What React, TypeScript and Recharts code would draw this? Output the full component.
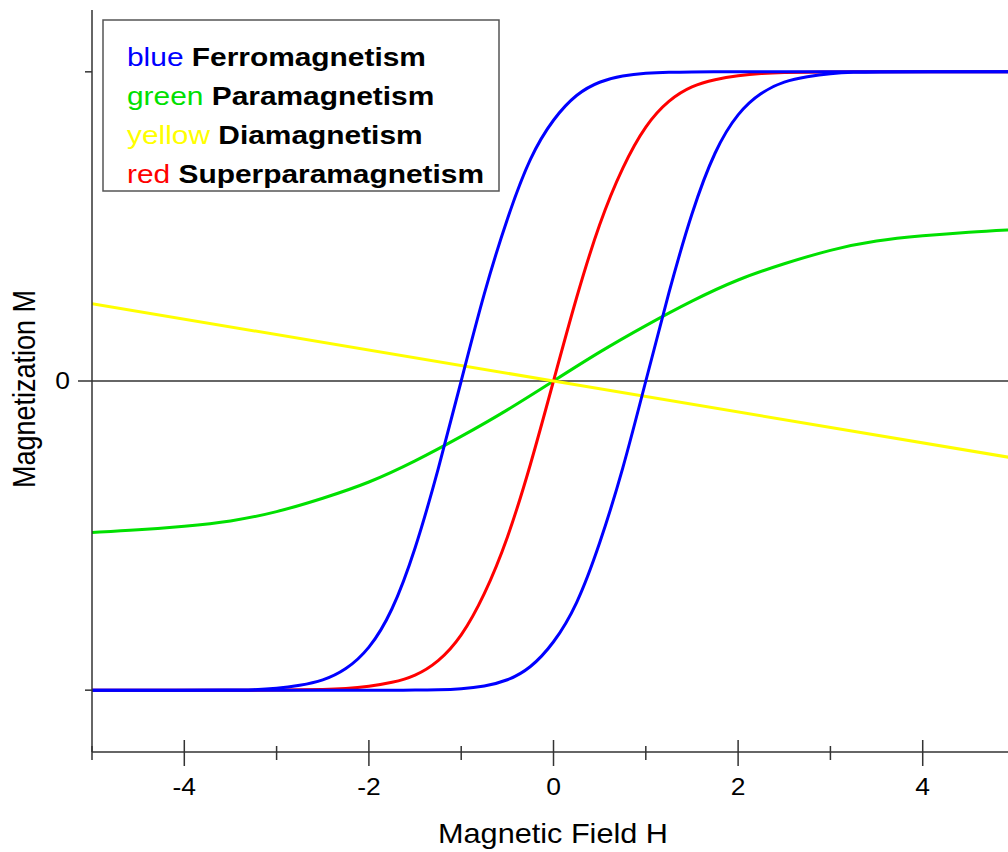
import React from 'react';
import { LineChart, Line, XAxis, YAxis, ReferenceLine, Legend } from 'recharts';

// ---- data ----
const FIELD_H = [-5, -4, -3.5, -3.25, -3, -2.75, -2.5, -2.25, -2, -1.75, -1.5, -1.25, -1, -0.75, -0.5, -0.25, 0, 0.25, 0.5, 0.75, 1, 1.25, 1.5, 1.75, 2, 2.25, 2.5, 2.75, 3, 3.25, 3.5, 4, 5];
const FERRO_DESCENDING = [-1, -1, -1, -0.999, -0.995, -0.985, -0.97, -0.935, -0.87, -0.75, -0.55, -0.29, 0, 0.29, 0.53, 0.73, 0.85, 0.93, 0.97, 0.988, 0.996, 0.999, 1, 1, 1, 1, 1, 1, 1, 1, 1, 1, 1];
const FERRO_ASCENDING = [-1, -1, -1, -1, -1, -1, -1, -1, -1, -1, -1, -0.999, -0.996, -0.988, -0.97, -0.93, -0.85, -0.73, -0.53, -0.29, 0, 0.29, 0.55, 0.75, 0.87, 0.935, 0.97, 0.985, 0.995, 0.999, 1, 1, 1];
const SUPERPARA = [-1, -1, -1, -1, -1, -0.999, -0.998, -0.995, -0.988, -0.976, -0.955, -0.91, -0.83, -0.695, -0.515, -0.275, 0, 0.275, 0.515, 0.695, 0.83, 0.91, 0.955, 0.976, 0.988, 0.995, 0.998, 0.999, 1, 1, 1, 1, 1];
const PARA_H = [-5, -4.5, -4, -3.5, -3, -2.5, -2, -1.5, -1, -0.5, 0, 0.5, 1, 1.5, 2, 2.5, 3, 3.5, 4, 4.5, 5];
const PARA = [-0.49, -0.482, -0.47, -0.455, -0.425, -0.38, -0.33, -0.26, -0.18, -0.095, 0, 0.095, 0.18, 0.26, 0.33, 0.38, 0.425, 0.455, 0.47, 0.482, 0.49];
const DIA_H = [-5, 0, 5];
const DIA = [0.25, 0, -0.25];

const X_TICKS = [-5, -4, -3, -2, -1, 0, 1, 2, 3, 4];
const X_LABELED = [-4, -2, 0, 2, 4];
const Y_TICKS = [-1, 0, 1];
const Y_LABELED = [0];

const LEGEND_WORDS = ['blue', 'green', 'yellow', 'red'];
const LEGEND_NAMES = ['Ferromagnetism', 'Paramagnetism', 'Diamagnetism', 'Superparamagnetism'];
const LEGEND_COLORS = ['#0000ff', '#00e000', '#ffff00', '#ff0000'];

const COLOR_BLUE = '#0000ff';
const COLOR_GREEN = '#00e000';
const COLOR_YELLOW = '#ffff00';
const COLOR_RED = '#ff0000';
const AXIS = '#333333';
const FONT = '"Liberation Sans", Arial, Helvetica, sans-serif';

const zip = (hs: number[], ms: number[]) => hs.map((h, i) => ({ h, m: ms[i] }));

const ferroDown = zip(FIELD_H, FERRO_DESCENDING);
const ferroUp = zip(FIELD_H, FERRO_ASCENDING);
const superPara = zip(FIELD_H, SUPERPARA);
const para = zip(PARA_H, PARA);
const dia = zip(DIA_H, DIA);

const XTick = (props: any) => {
  const { x, y, payload } = props;
  const v = payload.value;
  const major = X_LABELED.includes(v);
  return (
    <g>
      <line x1={x} x2={x} y1={y - (major ? 12 : 6)} y2={y + (major ? 14 : 8)} stroke={AXIS} strokeWidth={1.5} />
      {major && (
        <g transform={`translate(${x}, ${y + 43}) scale(1.15, 1)`}>
          <text x={0} y={0} textAnchor="middle" fontSize={23} fill="#000" fontFamily={FONT}>
            {String(v)}
          </text>
        </g>
      )}
    </g>
  );
};

const YTick = (props: any) => {
  const { x, y, payload } = props;
  const v = payload.value;
  const major = Y_LABELED.includes(v);
  return (
    <g>
      <line x1={x - (major ? 14 : 7)} x2={x} y1={y} y2={y} stroke={AXIS} strokeWidth={1.5} />
      {major && (
        <g transform={`translate(${x - 22}, ${y}) scale(1.15, 1)`}>
          <text x={0} y={0} dy="0.36em" textAnchor="end" fontSize={23} fill="#000" fontFamily={FONT}>
            {String(v)}
          </text>
        </g>
      )}
    </g>
  );
};

const XTitle = () => (
  <g transform="translate(553, 843) scale(1.135, 1)">
    <text x={0} y={0} textAnchor="middle" fontSize={27} fill="#000" fontFamily={FONT}>
      Magnetic Field H
    </text>
  </g>
);

const YTitle = () => (
  <g transform="translate(35, 389) scale(1.17, 1) rotate(-90)">
    <text x={0} y={0} textAnchor="middle" fontSize={27} fill="#000" fontFamily={FONT}>
      Magnetization M
    </text>
  </g>
);

const LEGEND_BASELINES = [47, 86, 125, 164];

const renderLegend = () => (
  <svg width={399} height={174} style={{ display: 'block' }}>
    <rect x={1} y={1} width={396} height={171} fill="#ffffff" stroke="#555555" strokeWidth={1.5} />
    {LEGEND_WORDS.map((w, i) => (
      <g key={w} transform={`translate(25, ${LEGEND_BASELINES[i]}) scale(1.15, 1)`}>
        <text x={0} y={0} fontSize={26} fontFamily={FONT} style={{ whiteSpace: 'pre' }}>
          <tspan fill={LEGEND_COLORS[i]}>{w + ' '}</tspan>
          <tspan fill="#000" fontWeight="bold">{LEGEND_NAMES[i]}</tspan>
        </text>
      </g>
    ))}
  </svg>
);

export default function App() {
  return (
    <div style={{ position: 'absolute', left: 0, top: 0, width: 1008, height: 852, background: '#fff' }}>
      <LineChart width={1008} height={852} margin={{ top: 10, right: 0, bottom: 0, left: 0 }}>
        <XAxis
          type="number"
          dataKey="h"
          domain={[-5, 4.924]}
          allowDataOverflow
          ticks={X_TICKS}
          interval={0}
          height={100}
          axisLine={{ stroke: AXIS, strokeWidth: 1.5 }}
          tickLine={false}
          tickSize={0}
          tickMargin={0}
          tick={(p: any) => <XTick {...p} />}
          label={{ content: () => <XTitle /> }}
        />
        <YAxis
          type="number"
          domain={[-1.2, 1.2]}
          allowDataOverflow
          ticks={Y_TICKS}
          interval={0}
          width={92}
          axisLine={{ stroke: AXIS, strokeWidth: 1.5 }}
          tickLine={false}
          tickSize={0}
          tickMargin={0}
          tick={(p: any) => <YTick {...p} />}
          label={{ content: () => <YTitle /> }}
        />
        <ReferenceLine y={0} stroke={AXIS} strokeWidth={1.5} />
        <Line data={para} dataKey="m" type="basis" stroke={COLOR_GREEN} strokeWidth={3} dot={false} activeDot={false} isAnimationActive={false} name="Paramagnetism" />
        <Line data={superPara} dataKey="m" type="basis" stroke={COLOR_RED} strokeWidth={3} dot={false} activeDot={false} isAnimationActive={false} name="Superparamagnetism" />
        <Line data={dia} dataKey="m" type="linear" stroke={COLOR_YELLOW} strokeWidth={3} dot={false} activeDot={false} isAnimationActive={false} name="Diamagnetism" />
        <Line data={ferroDown} dataKey="m" type="basis" stroke={COLOR_BLUE} strokeWidth={3} dot={false} activeDot={false} isAnimationActive={false} name="Ferromagnetism (descending)" />
        <Line data={ferroUp} dataKey="m" type="basis" stroke={COLOR_BLUE} strokeWidth={3} dot={false} activeDot={false} isAnimationActive={false} name="Ferromagnetism (ascending)" />
        <Legend
          content={renderLegend}
          layout="horizontal"
          verticalAlign="middle"
          align="center"
          wrapperStyle={{ position: 'absolute', left: 102, top: 19, width: 399, height: 174 }}
        />
      </LineChart>
    </div>
  );
}
